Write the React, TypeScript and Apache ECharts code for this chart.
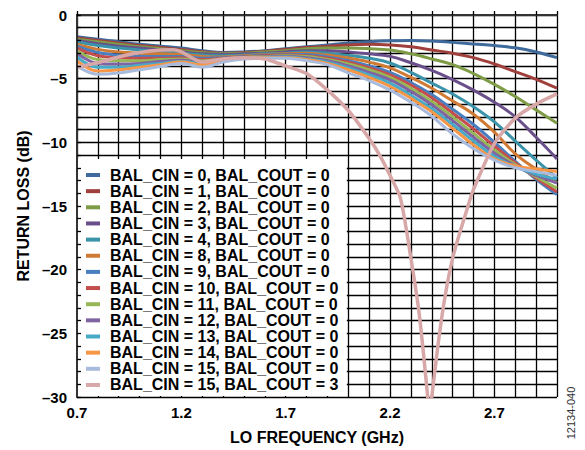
import React, { useEffect, useRef } from "react";
import * as echarts from "echarts";

const FREQ = [0.7, 0.8, 0.9, 1.0, 1.1, 1.2, 1.3, 1.4, 1.5, 1.6, 1.7, 1.8, 1.9, 2.0, 2.1, 2.2, 2.3, 2.4, 2.5, 2.6, 2.7, 2.8, 2.9, 3.0];

const CIN0_COUT0 = [-1.7, -1.9, -2.1, -2.3, -2.45, -2.6, -2.8, -2.95, -2.9, -2.8, -2.65, -2.5, -2.35, -2.2, -2.1, -2.03, -2.0, -2.05, -2.15, -2.28, -2.4, -2.58, -2.9, -3.35];
const CIN1_COUT0 = [-1.8, -2.0, -2.2, -2.4, -2.55, -2.7, -2.88, -3.0, -2.95, -2.85, -2.7, -2.55, -2.45, -2.35, -2.3, -2.35, -2.5, -2.75, -3.0, -3.35, -3.85, -4.45, -5.05, -5.75];
const CIN2_COUT0 = [-1.9, -2.1, -2.3, -2.5, -2.65, -2.8, -2.95, -3.05, -3.0, -2.9, -2.8, -2.65, -2.6, -2.6, -2.65, -2.75, -3.05, -3.45, -3.9, -4.6, -5.45, -6.4, -7.45, -8.5];
const CIN3_COUT0 = [-2.0, -2.25, -2.45, -2.6, -2.75, -2.9, -3.05, -3.1, -3.05, -3.0, -2.9, -2.8, -2.8, -2.9, -3.05, -3.25, -3.75, -4.35, -5.07, -5.9, -6.85, -8.0, -9.6, -11.3];
const CIN4_COUT0 = [-2.1, -2.4, -2.6, -2.75, -2.9, -3.0, -3.15, -3.2, -3.15, -3.05, -3.0, -2.9, -3.0, -3.17, -3.4, -3.77, -4.5, -5.35, -6.2, -7.2, -8.4, -9.9, -11.4, -12.8];
const CIN8_COUT0 = [-2.3, -2.7, -2.9, -3.0, -3.05, -3.1, -3.25, -3.3, -3.2, -3.1, -3.05, -3.0, -3.15, -3.38, -3.7, -4.15, -4.9, -5.75, -6.75, -7.8, -9.2, -10.9, -12.1, -13.2];
const CIN9_COUT0 = [-2.45, -2.95, -3.15, -3.25, -3.25, -3.25, -3.4, -3.35, -3.25, -3.15, -3.1, -3.1, -3.3, -3.6, -4.0, -4.5, -5.3, -6.25, -7.4, -8.6, -10.0, -11.5, -12.9, -14.1];
const CIN10_COUT0 = [-2.6, -3.2, -3.35, -3.4, -3.4, -3.35, -3.5, -3.4, -3.3, -3.2, -3.15, -3.2, -3.4, -3.7, -4.15, -4.7, -5.5, -6.5, -7.7, -8.95, -10.3, -11.6, -12.8, -13.9];
const CIN11_COUT0 = [-2.8, -3.5, -3.6, -3.6, -3.5, -3.45, -3.6, -3.45, -3.33, -3.25, -3.2, -3.25, -3.5, -3.85, -4.3, -4.9, -5.75, -6.8, -8.0, -9.3, -10.6, -11.75, -12.7, -13.6];
const CIN12_COUT0 = [-3.0, -3.8, -3.85, -3.8, -3.65, -3.55, -3.7, -3.5, -3.36, -3.3, -3.25, -3.35, -3.6, -4.0, -4.5, -5.1, -6.0, -7.05, -8.3, -9.6, -10.85, -11.85, -12.6, -13.2];
const CIN13_COUT0 = [-3.3, -4.1, -4.1, -3.95, -3.8, -3.65, -3.8, -3.55, -3.4, -3.33, -3.3, -3.45, -3.7, -4.15, -4.7, -5.35, -6.3, -7.35, -8.6, -9.9, -11.1, -11.9, -12.5, -12.9];
const CIN14_COUT0 = [-3.6, -4.4, -4.3, -4.1, -3.9, -3.7, -3.9, -3.6, -3.42, -3.36, -3.35, -3.5, -3.8, -4.3, -4.9, -5.6, -6.55, -7.6, -8.9, -10.2, -11.3, -11.85, -12.1, -12.3];
const CIN15_COUT0 = [-4.0, -4.65, -4.55, -4.3, -4.05, -3.8, -4.1, -3.7, -3.45, -3.4, -3.4, -3.6, -3.9, -4.55, -5.15, -5.9, -6.85, -7.95, -9.35, -10.5, -11.4, -12.0, -12.3, -12.6];

const FREQ_COUT3 = [0.7, 0.8, 0.9, 1.0, 1.1, 1.16, 1.2, 1.3, 1.4, 1.5, 1.6, 1.7, 1.8, 1.9, 2.0, 2.1, 2.15, 2.2, 2.25, 2.3, 2.34, 2.38, 2.39, 2.4, 2.45, 2.5, 2.57, 2.6, 2.7, 2.8, 2.9, 3.0];
const CIN15_COUT3 = [-4.1, -3.75, -3.3, -2.95, -2.75, -2.73, -2.9, -3.7, -3.45, -3.35, -3.45, -4.0, -4.6, -5.9, -7.5, -9.7, -11.0, -12.6, -14.4, -19.1, -23.5, -29.9, -32.0, -30.0, -23.5, -19.1, -15.2, -13.7, -10.1, -8.1, -7.0, -6.2];

const SERIES_NAMES = [
  "BAL_CIN = 0, BAL_COUT = 0",
  "BAL_CIN = 1, BAL_COUT = 0",
  "BAL_CIN = 2, BAL_COUT = 0",
  "BAL_CIN = 3, BAL_COUT = 0",
  "BAL_CIN = 4, BAL_COUT = 0",
  "BAL_CIN = 8, BAL_COUT = 0",
  "BAL_CIN = 9, BAL_COUT = 0",
  "BAL_CIN = 10, BAL_COUT = 0",
  "BAL_CIN = 11, BAL_COUT = 0",
  "BAL_CIN = 12, BAL_COUT = 0",
  "BAL_CIN = 13, BAL_COUT = 0",
  "BAL_CIN = 14, BAL_COUT = 0",
  "BAL_CIN = 15, BAL_COUT = 0",
  "BAL_CIN = 15, BAL_COUT = 3",
];

const SERIES_VALUES = [
  CIN0_COUT0, CIN1_COUT0, CIN2_COUT0, CIN3_COUT0, CIN4_COUT0, CIN8_COUT0, CIN9_COUT0,
  CIN10_COUT0, CIN11_COUT0, CIN12_COUT0, CIN13_COUT0, CIN14_COUT0, CIN15_COUT0, CIN15_COUT3,
];
const SERIES_FREQS = [
  FREQ, FREQ, FREQ, FREQ, FREQ, FREQ, FREQ, FREQ, FREQ, FREQ, FREQ, FREQ, FREQ, FREQ_COUT3,
];

const COLORS = [
  "#3E6A9C", "#A0403D", "#7E9B46", "#6A4F8A", "#3A93A8", "#D07B35", "#4A7FBF",
  "#C44E4D", "#97B756", "#8064A2", "#47AAC6", "#F79646", "#A9BBDC", "#D8A7A7",
];

const X_LABELS = [0.7, 1.2, 1.7, 2.2, 2.7];
const FONT = '"Liberation Sans", Arial, Helvetica, sans-serif';

export default function App() {
  const ref = useRef<HTMLDivElement>(null);

  useEffect(() => {
    if (!ref.current) return;
    const chart = echarts.init(ref.current, null, { renderer: "svg" });

    const xCommon = { type: "value", min: 0.7, max: 3.0, interval: 0.1, gridIndex: 0 };
    const yCommon = { type: "value", min: -30, max: 0, interval: 1, gridIndex: 0 };

    const series = SERIES_NAMES.map((name, i) => ({
      name,
      type: "line",
      xAxisIndex: 0,
      yAxisIndex: 0,
      data: SERIES_FREQS[i].map((f, j) => [f, SERIES_VALUES[i][j]]),
      smooth: i === 13 ? 0.25 : 0.4,
      showSymbol: false,
      symbol: "none",
      color: COLORS[i],
      lineStyle: { width: i === 13 ? 3.5 : 3, color: COLORS[i] },
      z: 2,
    }));

    chart.setOption({
      animation: false,
      backgroundColor: "#fff",
      textStyle: { fontFamily: FONT },
      grid: { left: 77, top: 15, width: 480, height: 385, containLabel: false },
      xAxis: [
        {
          ...xCommon,
          position: "bottom",
          name: "LO FREQUENCY (GHz)",
          nameLocation: "middle",
          nameGap: 32,
          nameTextStyle: { fontSize: 16, fontWeight: "bold", color: "#000", fontFamily: FONT },
          axisLine: { show: true, lineStyle: { color: "#333", width: 2 } },
          axisTick: { show: false },
          axisLabel: {
            show: true,
            margin: 8,
            fontSize: 15,
            fontWeight: "bold",
            color: "#000",
            fontFamily: FONT,
            formatter: (v: number) => {
              const r = Math.round(v * 10);
              return X_LABELS.some((l) => Math.round(l * 10) === r) ? v.toFixed(1) : "";
            },
          },
          splitLine: { show: true, lineStyle: { color: "#000", width: 1.3 } },
          z: 0,
        },
        {
          ...xCommon,
          position: "bottom",
          axisLine: { show: true, lineStyle: { color: "#333", width: 2 } },
          axisTick: { show: true, inside: true, length: 4, lineStyle: { color: "#000", width: 1.3 } },
          axisLabel: { show: false },
          splitLine: { show: false },
          z: 3,
        },
      ],
      yAxis: [
        {
          ...yCommon,
          position: "left",
          name: "RETURN LOSS (dB)",
          nameLocation: "middle",
          nameGap: 45,
          nameTextStyle: { fontSize: 16, fontWeight: "bold", color: "#000", fontFamily: FONT },
          axisLine: { show: true, lineStyle: { color: "#333", width: 2 } },
          axisTick: { show: false },
          axisLabel: {
            show: true,
            margin: 10,
            fontSize: 15,
            fontWeight: "bold",
            color: "#000",
            fontFamily: FONT,
            formatter: (v: number) => {
              const r = Math.round(v);
              if (r % 5 !== 0) return "";
              return r < 0 ? "\u2013" + Math.abs(r) : String(r);
            },
          },
          splitLine: { show: true, lineStyle: { color: "#000", width: 1.3 } },
          z: 0,
        },
        {
          ...yCommon,
          position: "left",
          axisLine: { show: true, lineStyle: { color: "#333", width: 2 } },
          axisTick: { show: true, inside: true, length: 4, lineStyle: { color: "#000", width: 1.3 } },
          axisLabel: { show: false },
          splitLine: { show: false },
          z: 3,
        },
      ],
      legend: {
        orient: "vertical",
        left: 86,
        top: 167,
        padding: 0,
        itemGap: 0.15,
        itemWidth: 14,
        itemHeight: 4,
        icon: "rect",
        z: 6,
        data: SERIES_NAMES,
        textStyle: {
          fontSize: 16,
          fontWeight: "bold",
          color: "#000",
          fontFamily: FONT,
          lineHeight: 16,
          padding: [0, 0, 0, 5],
        },
      },
      series,
    });

    const tl = chart.convertToPixel({ xAxisIndex: 0, yAxisIndex: 0 }, [0.7, -11]) as number[];
    const br = chart.convertToPixel({ xAxisIndex: 0, yAxisIndex: 0 }, [2.0, -30]) as number[];

    chart.setOption({
      graphic: {
        elements: [
          {
            type: "rect",
            z: 1,
            silent: true,
            shape: { x: tl[0] + 1, y: tl[1] + 4, width: br[0] - tl[0] - 2.5, height: br[1] - tl[1] - 5 },
            style: { fill: "#fff" },
          },
          {
            type: "text",
            z: 10,
            x: 571,
            y: 413,
            rotation: Math.PI / 2,
            style: {
              text: "12134-040",
              fontSize: 11,
              fontFamily: FONT,
              fill: "#333",
              align: "center",
              verticalAlign: "middle",
            },
          },
        ],
      },
    });

    return () => chart.dispose();
  }, []);

  return (
    <div
      ref={ref}
      style={{ position: "fixed", left: 0, top: 0, width: 585, height: 450, background: "#fff" }}
    />
  );
}
